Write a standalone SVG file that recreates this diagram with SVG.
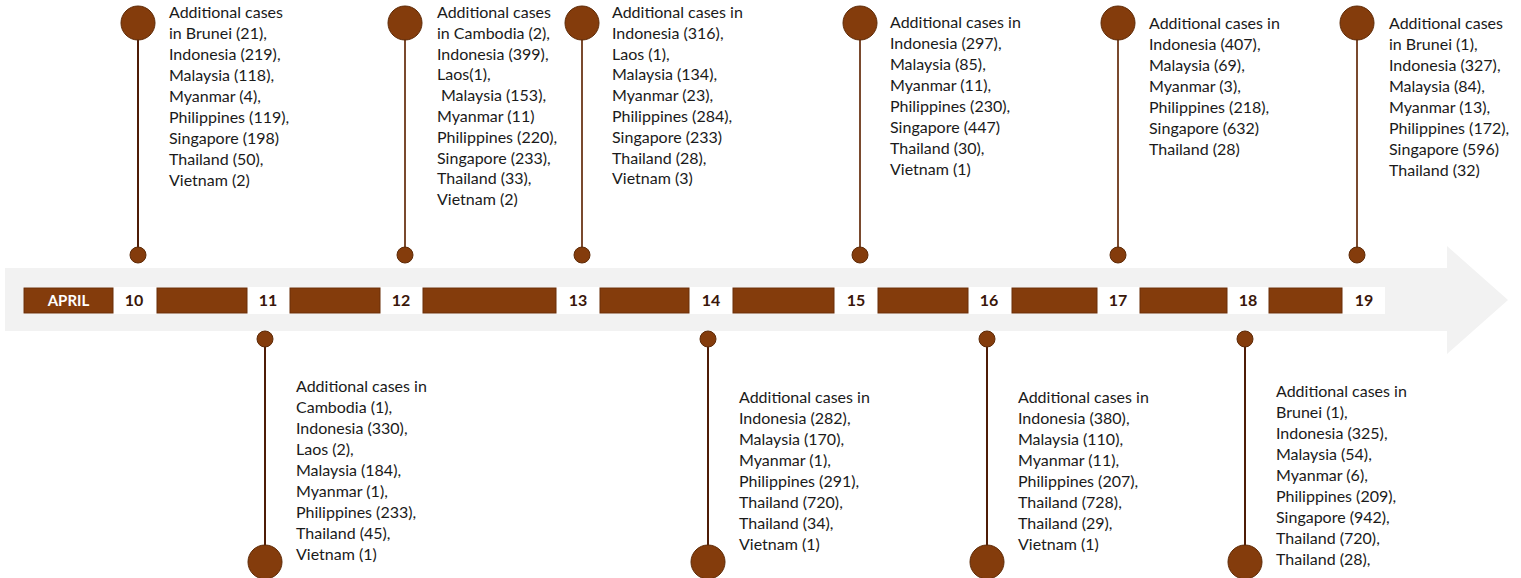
<svg xmlns="http://www.w3.org/2000/svg" width="1521" height="578" viewBox="0 0 1521 578">
<style>
.band{fill:#f2f2f2}
.strip{fill:#ffffff}
.bar{fill:#843c0c;stroke:#6a2e08;stroke-width:1}
.day{font-family:Lato,"Liberation Sans",sans-serif;font-weight:bold;font-size:16px;fill:#3a170a;text-anchor:middle}
.month{font-family:Lato,"Liberation Sans",sans-serif;font-weight:bold;font-size:15px;fill:#ffffff;text-anchor:middle}
.dot{fill:#843c0c;stroke:#5e2a07;stroke-width:1}
.stem{stroke:#7a4a2e;stroke-width:2}
.stemd{stroke:#4e1c06;stroke-width:2}
.note{font-family:Lato,"Liberation Sans",sans-serif;font-size:16px;fill:#1a1a1a}
</style>
<g id="timeline">
<path class="band" d="M5 268 H1447 V246 L1508 300 L1447 354 V331 H5 Z"/>
<rect class="strip" x="23" y="287" width="1362" height="27"/>
<rect class="bar" x="24" y="288" width="89" height="25"/>
<text class="month" x="68.5" y="306">APRIL</text>
<rect class="bar" x="157" y="288" width="90" height="25"/>
<rect class="bar" x="290" y="288" width="90" height="25"/>
<rect class="bar" x="423" y="288" width="133" height="25"/>
<rect class="bar" x="600" y="288" width="89" height="25"/>
<rect class="bar" x="733" y="288" width="101" height="25"/>
<rect class="bar" x="878" y="288" width="90" height="25"/>
<rect class="bar" x="1012" y="288" width="85" height="25"/>
<rect class="bar" x="1140" y="288" width="87" height="25"/>
<rect class="bar" x="1269" y="288" width="73" height="25"/>
<text class="day" x="134" y="306">10</text>
<text class="day" x="268" y="306">11</text>
<text class="day" x="401" y="306">12</text>
<text class="day" x="578" y="306">13</text>
<text class="day" x="711" y="306">14</text>
<text class="day" x="856" y="306">15</text>
<text class="day" x="989" y="306">16</text>
<text class="day" x="1118" y="306">17</text>
<text class="day" x="1248" y="306">18</text>
<text class="day" x="1364" y="306">19</text>
</g>
<g id="connectors">
<line class="stemd" x1="138" y1="23" x2="138" y2="255"/>
<line class="stem" x1="405" y1="23" x2="405" y2="255"/>
<line class="stem" x1="582" y1="23" x2="582" y2="255"/>
<line class="stem" x1="860" y1="23" x2="860" y2="255"/>
<line class="stem" x1="1118" y1="23" x2="1118" y2="255"/>
<line class="stem" x1="1357" y1="23" x2="1357" y2="255"/>
<line class="stemd" x1="265" y1="339" x2="265" y2="562"/>
<line class="stemd" x1="708" y1="339" x2="708" y2="562"/>
<line class="stemd" x1="987" y1="339" x2="987" y2="562"/>
<line class="stemd" x1="1245" y1="339" x2="1245" y2="562"/>
</g>
<g id="apr10">
<circle class="dot" cx="138" cy="23" r="17"/>
<circle class="dot" cx="138" cy="255" r="8"/>
<text class="note" x="169" y="18"><tspan x="169">Additional cases</tspan><tspan x="169" dy="21">in Brunei (21),</tspan><tspan x="169" dy="21">Indonesia (219),</tspan><tspan x="169" dy="21">Malaysia (118),</tspan><tspan x="169" dy="21">Myanmar (4),</tspan><tspan x="169" dy="21">Philippines (119),</tspan><tspan x="169" dy="21">Singapore (198)</tspan><tspan x="169" dy="21">Thailand (50),</tspan><tspan x="169" dy="21">Vietnam (2)</tspan></text>
</g>
<g id="apr11">
<circle class="dot" cx="265" cy="339" r="8"/>
<circle class="dot" cx="265" cy="562" r="17"/>
<text class="note" x="296" y="392"><tspan x="296">Additional cases in</tspan><tspan x="296" dy="21">Cambodia (1),</tspan><tspan x="296" dy="21">Indonesia (330),</tspan><tspan x="296" dy="21">Laos (2),</tspan><tspan x="296" dy="21">Malaysia (184),</tspan><tspan x="296" dy="21">Myanmar (1),</tspan><tspan x="296" dy="21">Philippines (233),</tspan><tspan x="296" dy="21">Thailand (45),</tspan><tspan x="296" dy="21">Vietnam (1)</tspan></text>
</g>
<g id="apr12">
<circle class="dot" cx="405" cy="23" r="17"/>
<circle class="dot" cx="405" cy="255" r="8"/>
<text class="note" x="437" y="18"><tspan x="437">Additional cases</tspan><tspan x="437" dy="20.8">in Cambodia (2),</tspan><tspan x="437" dy="20.8">Indonesia (399),</tspan><tspan x="437" dy="20.8">Laos(1),</tspan><tspan x="441" dy="20.8">Malaysia (153),</tspan><tspan x="437" dy="20.8">Myanmar (11)</tspan><tspan x="437" dy="20.8">Philippines (220),</tspan><tspan x="437" dy="20.8">Singapore (233),</tspan><tspan x="437" dy="20.8">Thailand (33),</tspan><tspan x="437" dy="20.8">Vietnam (2)</tspan></text>
</g>
<g id="apr13">
<circle class="dot" cx="582" cy="23" r="17"/>
<circle class="dot" cx="582" cy="255" r="8"/>
<text class="note" x="612" y="18"><tspan x="612">Additional cases in</tspan><tspan x="612" dy="20.8">Indonesia (316),</tspan><tspan x="612" dy="20.8">Laos (1),</tspan><tspan x="612" dy="20.8">Malaysia (134),</tspan><tspan x="612" dy="20.8">Myanmar (23),</tspan><tspan x="612" dy="20.8">Philippines (284),</tspan><tspan x="612" dy="20.8">Singapore (233)</tspan><tspan x="612" dy="20.8">Thailand (28),</tspan><tspan x="612" dy="20.8">Vietnam (3)</tspan></text>
</g>
<g id="apr14">
<circle class="dot" cx="708" cy="339" r="8"/>
<circle class="dot" cx="708" cy="562" r="17"/>
<text class="note" x="739" y="403"><tspan x="739">Additional cases in</tspan><tspan x="739" dy="21">Indonesia (282),</tspan><tspan x="739" dy="21">Malaysia (170),</tspan><tspan x="739" dy="21">Myanmar (1),</tspan><tspan x="739" dy="21">Philippines (291),</tspan><tspan x="739" dy="21">Thailand (720),</tspan><tspan x="739" dy="21">Thailand (34),</tspan><tspan x="739" dy="21">Vietnam (1)</tspan></text>
</g>
<g id="apr15">
<circle class="dot" cx="860" cy="23" r="17"/>
<circle class="dot" cx="860" cy="255" r="8"/>
<text class="note" x="890" y="28"><tspan x="890">Additional cases in</tspan><tspan x="890" dy="21">Indonesia (297),</tspan><tspan x="890" dy="21">Malaysia (85),</tspan><tspan x="890" dy="21">Myanmar (11),</tspan><tspan x="890" dy="21">Philippines (230),</tspan><tspan x="890" dy="21">Singapore (447)</tspan><tspan x="890" dy="21">Thailand (30),</tspan><tspan x="890" dy="21">Vietnam (1)</tspan></text>
</g>
<g id="apr16">
<circle class="dot" cx="987" cy="339" r="8"/>
<circle class="dot" cx="987" cy="562" r="17"/>
<text class="note" x="1018" y="403"><tspan x="1018">Additional cases in</tspan><tspan x="1018" dy="21">Indonesia (380),</tspan><tspan x="1018" dy="21">Malaysia (110),</tspan><tspan x="1018" dy="21">Myanmar (11),</tspan><tspan x="1018" dy="21">Philippines (207),</tspan><tspan x="1018" dy="21">Thailand (728),</tspan><tspan x="1018" dy="21">Thailand (29),</tspan><tspan x="1018" dy="21">Vietnam (1)</tspan></text>
</g>
<g id="apr17">
<circle class="dot" cx="1118" cy="23" r="17"/>
<circle class="dot" cx="1118" cy="255" r="8"/>
<text class="note" x="1149" y="29"><tspan x="1149">Additional cases in</tspan><tspan x="1149" dy="21">Indonesia (407),</tspan><tspan x="1149" dy="21">Malaysia (69),</tspan><tspan x="1149" dy="21">Myanmar (3),</tspan><tspan x="1149" dy="21">Philippines (218),</tspan><tspan x="1149" dy="21">Singapore (632)</tspan><tspan x="1149" dy="21">Thailand (28)</tspan></text>
</g>
<g id="apr18">
<circle class="dot" cx="1245" cy="339" r="8"/>
<circle class="dot" cx="1245" cy="562" r="17"/>
<text class="note" x="1276" y="397"><tspan x="1276">Additional cases in</tspan><tspan x="1276" dy="21">Brunei (1),</tspan><tspan x="1276" dy="21">Indonesia (325),</tspan><tspan x="1276" dy="21">Malaysia (54),</tspan><tspan x="1276" dy="21">Myanmar (6),</tspan><tspan x="1276" dy="21">Philippines (209),</tspan><tspan x="1276" dy="21">Singapore (942),</tspan><tspan x="1276" dy="21">Thailand (720),</tspan><tspan x="1276" dy="21">Thailand (28),</tspan></text>
</g>
<g id="apr19">
<circle class="dot" cx="1357" cy="23" r="17"/>
<circle class="dot" cx="1357" cy="255" r="8"/>
<text class="note" x="1389" y="29"><tspan x="1389">Additional cases</tspan><tspan x="1389" dy="21">in Brunei (1),</tspan><tspan x="1389" dy="21">Indonesia (327),</tspan><tspan x="1389" dy="21">Malaysia (84),</tspan><tspan x="1389" dy="21">Myanmar (13),</tspan><tspan x="1389" dy="21">Philippines (172),</tspan><tspan x="1389" dy="21">Singapore (596)</tspan><tspan x="1389" dy="21">Thailand (32)</tspan></text>
</g>
</svg>
